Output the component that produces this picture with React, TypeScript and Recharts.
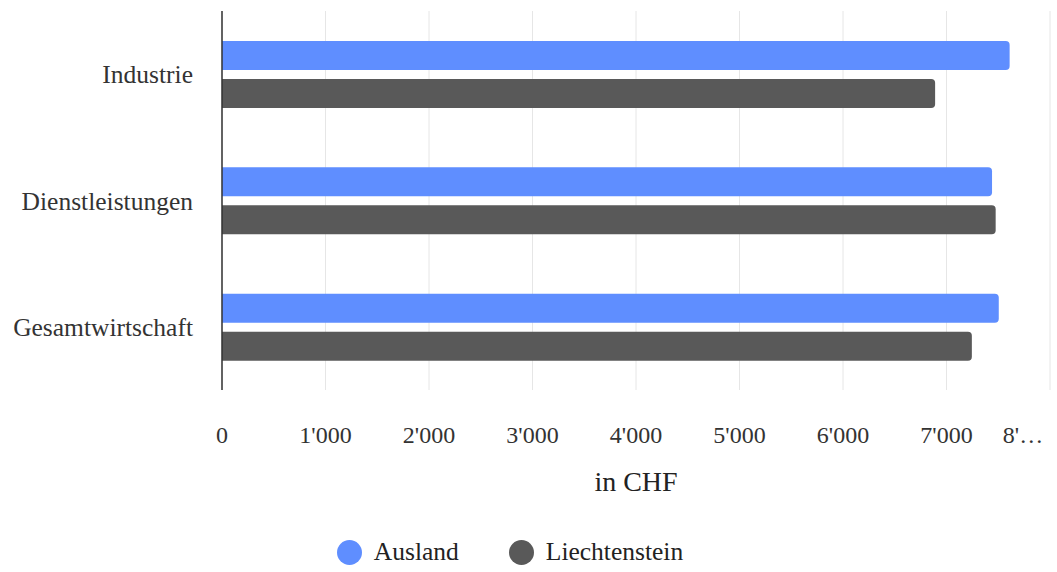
import React from 'react';
import { BarChart, Bar, XAxis, YAxis, CartesianGrid, Legend } from 'recharts';

const categories = ['Industrie', 'Dienstleistungen', 'Gesamtwirtschaft'];
const ausland = [7610, 7440, 7505];
const liechtenstein = [6890, 7475, 7245];
const xTicks = [0, 1000, 2000, 3000, 4000, 5000, 6000, 7000, 8000];

const FONT = '"Liberation Serif", "Times New Roman", serif';
const BLUE = '#5f8eff';
const GREY = '#595959';

const data = categories.map((name, i) => ({
  name,
  Ausland: ausland[i],
  Liechtenstein: liechtenstein[i],
}));

const formatTick = (v: number) => {
  if (v === 8000) return "8'…";
  if (v === 0) return '0';
  const s = String(v);
  return s.slice(0, s.length - 3) + "'" + s.slice(-3);
};

// last tick is truncated in the original and pulled left so it fits
const XTick = (props: any) => {
  const { x, y, payload } = props;
  const isLast = payload.value === 8000;
  return (
    <text
      x={x}
      y={y}
      dx={isLast ? -27 : 0}
      dy="0.71em"
      textAnchor="middle"
      fill="#333"
      fontFamily={FONT}
      fontSize={24}
    >
      {formatTick(payload.value)}
    </text>
  );
};

const renderLegend = (props: any) => {
  const { payload } = props;
  return (
    <div
      style={{
        display: 'flex',
        justifyContent: 'center',
        alignItems: 'center',
        height: 40,
        paddingRight: 30,
        fontFamily: FONT,
        fontSize: 25.5,
        color: '#222',
      }}
    >
      {(payload || []).map((entry: any, i: number) => (
        <div
          key={`leg-${i}`}
          style={{ display: 'flex', alignItems: 'center', marginLeft: i === 0 ? 0 : 50 }}
        >
          <span
            style={{
              width: 25,
              height: 25,
              borderRadius: '50%',
              background: entry.color,
              display: 'inline-block',
              marginRight: 12,
            }}
          />
          <span>{entry.value}</span>
        </div>
      ))}
    </div>
  );
};

export default function App() {
  return (
    <div style={{ position: 'fixed', left: 0, top: 0, width: 1057, height: 572, background: '#fff' }}>
      <BarChart
        width={1057}
        height={572}
        data={data}
        layout="vertical"
        margin={{ top: 11, right: 7, left: 0, bottom: 0 }}
        barSize={29}
        barGap={9}
      >
        <CartesianGrid horizontal={false} stroke="#e6e6e6" />
        <XAxis
          type="number"
          domain={[0, 8000]}
          ticks={xTicks}
          axisLine={false}
          tickLine={false}
          tickSize={0}
          tickMargin={36}
          height={142}
          interval={0}
          tick={<XTick />}
          label={{
            value: 'in CHF',
            position: 'insideBottom',
            offset: 41,
            fill: '#222',
            fontFamily: FONT,
            fontSize: 28,
          }}
        />
        <YAxis
          type="category"
          dataKey="name"
          width={222}
          axisLine={{ stroke: '#333', strokeWidth: 1.5 }}
          tickLine={false}
          tickSize={0}
          tickMargin={29}
          tick={{ fill: '#333', fontFamily: FONT, fontSize: 25.5 }}
        />
        <Legend verticalAlign="bottom" height={40} content={renderLegend} />
        <Bar dataKey="Ausland" fill={BLUE} radius={[0, 4, 4, 0]} isAnimationActive={false} />
        <Bar dataKey="Liechtenstein" fill={GREY} radius={[0, 4, 4, 0]} isAnimationActive={false} />
      </BarChart>
    </div>
  );
}
